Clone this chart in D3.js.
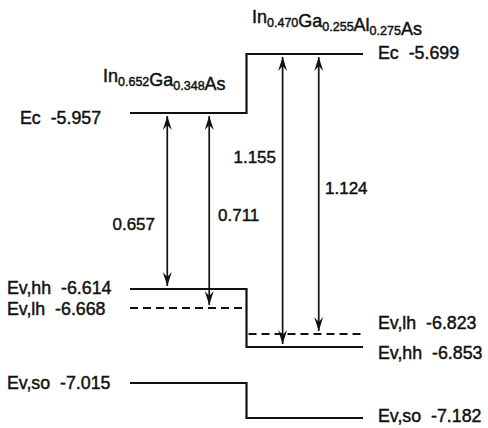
<!DOCTYPE html>
<html>
<head>
<meta charset="utf-8">
<script src="https://cdn.jsdelivr.net/npm/d3@7"></script>
<style>
  body { margin: 0; background: #fff; }
  text { font-family: "Liberation Sans", Arial, sans-serif; fill: #111; stroke: #111; stroke-width: 0.45; white-space: pre; }
</style>
</head>
<body>
<script>
// band edge data (eV), index 0 = InGaAs well, 1 = InGaAlAs barrier
var layers = [
  [["In", "0.652"], ["Ga", "0.348"], ["As", ""]],
  [["In", "0.470"], ["Ga", "0.255"], ["Al", "0.275"], ["As", ""]]
];
var levelNames = ["Ec", "Ev,hh", "Ev,lh", "Ev,so"];
var ec   = [-5.957, -5.699];
var evhh = [-6.614, -6.853];
var evlh = [-6.668, -6.823];
var evso = [-7.015, -7.182];
// transitions drawn as double arrows: layer, position in layer, from level, to level, label
var gapLayer = [0, 0, 1, 1];
var gapPos   = [0.32, 0.68, 0.31, 0.62];
var gapFrom  = [-5.957, -5.957, -5.699, -5.699];
var gapTo    = [-6.614, -6.668, -6.853, -6.823];
var gapLabel = ["0.657", "0.711", "1.155", "1.124"];

var W = 488, H = 428;
var svg = d3.select("body").append("svg").attr("width", W).attr("height", H);

var x = d3.scaleLinear().domain([0, 2]).range([130, 363]);
// diagram is not to scale, so piecewise mapping of energy to height
var y = d3.scaleLinear()
  .domain([-5.699, -5.957, -6.614, -6.668, -6.823, -6.853, -7.015, -7.182])
  .range([54, 113, 289, 308, 334, 347, 383, 418]);

var fmt = function(v) { return d3.format(".3f")(v).replace("\u2212", "-"); };

var defs = svg.append("defs");
defs.append("marker")
  .attr("id", "head")
  .attr("viewBox", "-15 -5 17 10")
  .attr("refX", 0).attr("refY", 0)
  .attr("markerWidth", 17).attr("markerHeight", 10)
  .attr("markerUnits", "userSpaceOnUse")
  .attr("orient", "auto-start-reverse")
  .append("path")
  .attr("d", "M0,0 L-14,-4.5 L-9,0 L-14,4.5 Z")
  .attr("fill", "#111");

// solid band edges with the step at the interface
function stepLine(vals) {
  return d3.line()([[x(0), y(vals[0])], [x(1), y(vals[0])], [x(1), y(vals[1])], [x(2), y(vals[1])]]);
}
[ec, evhh, evso].forEach(function(v) {
  svg.append("path").attr("d", stepLine(v))
    .attr("fill", "none").attr("stroke", "#111").attr("stroke-width", 2.2);
});
// light hole: dashed, no step
evlh.forEach(function(v, i) {
  svg.append("line")
    .attr("x1", x(i) + (i ? 2 : 0)).attr("x2", x(i + 1) - (i ? 0 : 4))
    .attr("y1", y(v)).attr("y2", y(v))
    .attr("stroke", "#111").attr("stroke-width", 2)
    .attr("stroke-dasharray", "8,5");
});

// arrows
var gap = 3;
gapLabel.forEach(function(lab, i) {
  var gx = x(gapLayer[i] + gapPos[i]);
  svg.append("line")
    .attr("x1", gx).attr("x2", gx)
    .attr("y1", y(gapFrom[i]) + gap).attr("y2", y(gapTo[i]) - gap)
    .attr("stroke", "#111").attr("stroke-width", 1.7)
    .attr("marker-start", "url(#head)").attr("marker-end", "url(#head)");
});
var gapLabelXY = [[155, 224, "end"], [218, 215, "start"], [276, 157, "end"], [325, 188, "start"]];
gapLabel.forEach(function(lab, i) {
  svg.append("text")
    .attr("x", gapLabelXY[i][0]).attr("y", gapLabelXY[i][1])
    .attr("dy", "0.35em")
    .attr("text-anchor", gapLabelXY[i][2])
    .attr("font-size", 17)
    .text(lab);
});

// level labels
var allLevels = [ec, evhh, evlh, evso];
var leftX = [20, 7, 7, 7], leftDy = [5, -1, 1, 0];
var rightDy = [-1, 6, -11, -2];
allLevels.forEach(function(v, k) {
  svg.append("text")
    .attr("x", leftX[k]).attr("y", y(v[0]) + leftDy[k]).attr("dy", "0.35em")
    .attr("font-size", 17.8)
    .text(levelNames[k] + "  " + fmt(v[0]));
  svg.append("text")
    .attr("x", 378).attr("y", y(v[1]) + rightDy[k]).attr("dy", "0.35em")
    .attr("font-size", 17.8)
    .text(levelNames[k] + "  " + fmt(v[1]));
});

// layer titles with subscripts
var titleXY = [[103, 82], [252, 23]];
layers.forEach(function(parts, i) {
  var t = svg.append("text").attr("x", titleXY[i][0]).attr("y", titleXY[i][1]).attr("font-size", 18);
  parts.forEach(function(p) {
    t.append("tspan").text(p[0]);
    if (p[1]) {
      t.append("tspan").attr("font-size", 12.5).attr("dy", 4).text(p[1]);
      t.append("tspan").attr("dy", -4).text("");
    }
  });
});
</script>
</body>
</html>
